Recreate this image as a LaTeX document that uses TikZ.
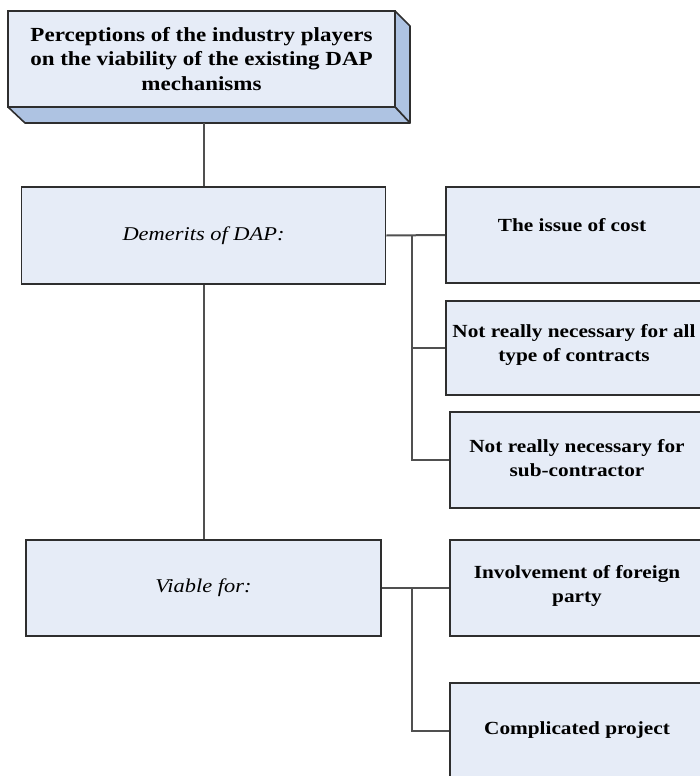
\documentclass[tikz,border=0pt]{standalone}
\usepackage{fontspec}
\setmainfont{Liberation Serif}[FakeStretch=1.15]
\definecolor{boxfill}{HTML}{E6ECF7}
\definecolor{sidefill}{HTML}{AEC3E2}
\definecolor{edge}{HTML}{2E2E2E}
\definecolor{wire}{HTML}{505050}
\tikzset{
  box/.style={draw=edge, line width=1.8pt, fill=boxfill, rectangle, inner sep=0pt},
  side/.style={draw=edge, line width=1.6pt, fill=sidefill, line join=round},
  txt/.style={align=center, font=\fontsize{18.5}{24}\selectfont\bfseries, inner sep=0pt},
  itxt/.style={align=center, font=\fontsize{19.5}{24}\selectfont\itshape, inner sep=0pt},
  wirestyle/.style={draw=wire, line width=2pt}
}
\begin{document}
\begin{tikzpicture}[x=1pt,y=-1pt]
\useasboundingbox (0,0) rectangle (700,776);
\clip (0,0) rectangle (700,776);
% top 3D box
\draw[side] (395,11) -- (410,26) -- (410,123) -- (395,107) -- cycle;
\draw[side] (8,107) -- (395,107) -- (410,123) -- (25,123) -- cycle;
\node[box, minimum width=387pt, minimum height=96pt] (top) at (201.5,59) {};
\node[txt, font=\fontsize{20}{24.5}\selectfont\bfseries] (toptext) at (top.center) {Perceptions of the industry players\\on the viability of the existing DAP\\mechanisms};
\coordinate (topbase) at (204,123);
% left boxes
\node[box, minimum width=364pt, minimum height=97pt] (dem) at (203.5,235.5) {};
\node[itxt] (demtext) at (dem.center) {Demerits of DAP:};
\node[box, minimum width=355pt, minimum height=96pt] (via) at (203.5,588) {};
\node[itxt] (viatext) at (via.center) {Viable for:};
% right boxes
\node[box, minimum width=270pt, minimum height=96pt, anchor=west] (c1) at (445,235) {};
\node[txt] (c1text) at (572,225) {The issue of cost};
\node[box, minimum width=270pt, minimum height=94pt, anchor=west] (c2) at (445,348) {};
\node[txt] (c2text) at (574,345) {Not really necessary for all\\type of contracts};
\node[box, minimum width=270pt, minimum height=96pt, anchor=west] (c3) at (449,460) {};
\node[txt] (c3text) at (577,458) {Not really necessary for\\sub-contractor};
\node[box, minimum width=270pt, minimum height=96pt, anchor=west] (c4) at (449,588) {};
\node[txt] (c4text) at (577,586) {Involvement of foreign\\party};
\node[box, minimum width=270pt, minimum height=96pt, anchor=west] (c5) at (449,731) {};
\node[txt] (c5text) at (577,730) {Complicated project};
% connectors
\draw[wirestyle] (topbase) -- (dem.north -| topbase);
\draw[wirestyle] (dem.south) -- (via.north);
\draw[wirestyle] (dem.east) -- (c1.west);
\coordinate (b1) at (412,235);
\draw[wirestyle] (b1) |- (c2.west);
\draw[wirestyle] (b1) |- (c3.west);
\draw[wirestyle] (via.east) -- (c4.west);
\coordinate (b2) at (412,588);
\draw[wirestyle] (b2) |- (c5.west);
\end{tikzpicture}
\end{document}
